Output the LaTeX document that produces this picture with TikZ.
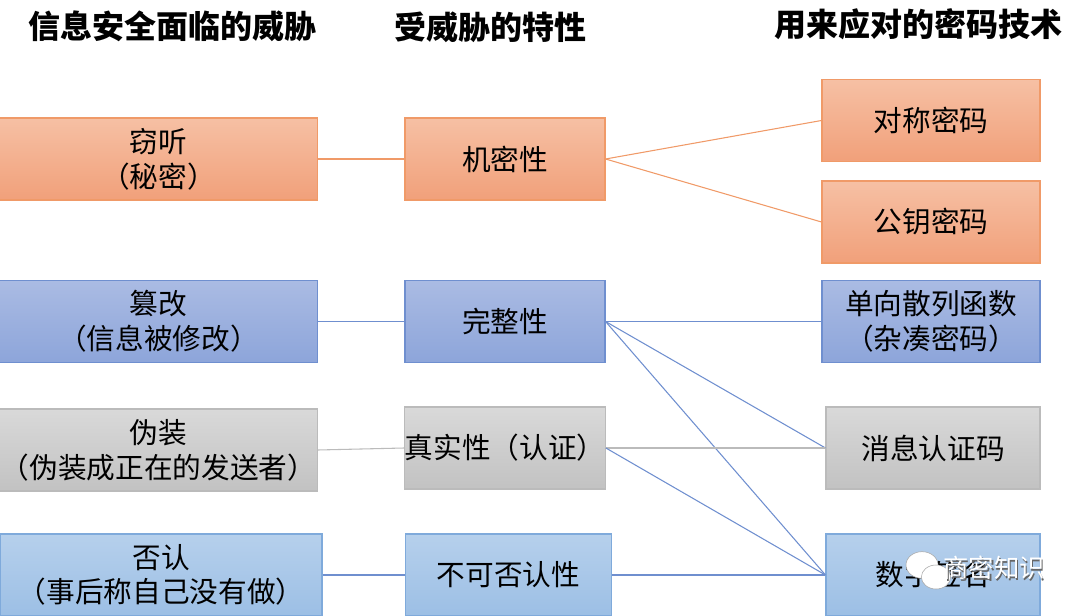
\documentclass[tikz,border=0pt]{standalone}
\usepackage{fontspec}
\setmainfont{Noto Sans CJK SC}
\usetikzlibrary{positioning}

\definecolor{orgtop}{HTML}{F6C0A4}
\definecolor{orgbot}{HTML}{F1A07A}
\definecolor{orgline}{HTML}{F09A68}
\definecolor{blutop}{HTML}{AABBE3}
\definecolor{blubot}{HTML}{8DA5DA}
\definecolor{bluline}{HTML}{6F8FCF}
\definecolor{grytop}{HTML}{D9D9D9}
\definecolor{grybot}{HTML}{C2C2C2}
\definecolor{gryline}{HTML}{BBBBBB}
\definecolor{lbltop}{HTML}{B6D0EC}
\definecolor{lblbot}{HTML}{9CBFE5}
\definecolor{lblline}{HTML}{7FAADB}

\begin{document}
\begin{tikzpicture}[x=0.75pt,y=-0.75pt,
    box/.style={draw,inner sep=0pt,align=center,minimum height=61.5pt,
      font=\fontsize{21.5}{26}\selectfont,line width=0.8pt},
    leftbox/.style={box,minimum width=238pt},
    midbox/.style={box,minimum width=150pt},
    rightbox/.style={box,minimum width=163.5pt},
    orange/.style={top color=orgtop,bottom color=orgbot,draw=orgline},
    blue/.style={top color=blutop,bottom color=blubot,draw=bluline},
    gray/.style={top color=grytop,bottom color=grybot,draw=gryline},
    lblue/.style={top color=lbltop,bottom color=lblbot,draw=lblline},
    head/.style={font=\fontsize{24}{28}\selectfont\bfseries}]
  \useasboundingbox (0,0) rectangle (1080,616);

  % column titles
  \node[head] (h1) at (172,26) {信息安全面临的威胁};
  \node[head] (h2) at (490,27) {受威胁的特性};
  \node[head] (h3) at (918,24) {用来应对的密码技术};

  % threats
  \node[leftbox,orange] (t1) at (158.5,159) {窃听\\（秘密）};
  \node[leftbox,blue] (t2) at (158.5,321.5) {篡改\\（信息被修改）};
  \node[leftbox,gray] (t3) at (158.5,450) {伪装\\（伪装成正在的发送者）};
  \node[leftbox,lblue,minimum width=241.5pt] (t4) at (161,575) {否认\\（事后称自己没有做）};

  % properties
  \node[midbox,orange] (p1) at (505,159) {机密性};
  \node[midbox,blue] (p2) at (505,321.5) {完整性};
  \node[midbox,gray] (p3) at (505,448) {真实性（认证）};
  \node[midbox,lblue,minimum width=155pt] (p4) at (508.5,575) {不可否认性};

  % techniques
  \node[rightbox,orange] (c1) at (931,120.5) {对称密码};
  \node[rightbox,orange] (c2) at (931,222) {公钥密码};
  \node[rightbox,blue] (c3) at (931,321.5) {单向散列函数\\（杂凑密码）};
  \node[rightbox,gray,minimum width=160.5pt] (c4) at (933,448) {消息认证码};
  \node[rightbox,lblue,minimum width=160.5pt] (c5) at (933,575) {数字签名};

  \draw[orgline,line width=0.8pt] (t1) -- (p1);
  \draw[orgline,line width=0.8pt] (p1.east) -- (c1.west);
  \draw[orgline,line width=0.8pt] (p1.east) -- (c2.west);

  \draw[bluline,line width=0.8pt] (t2) -- (p2);
  \draw[bluline,line width=0.8pt] (p2.east) -- (c3.west);
  \draw[bluline,line width=0.8pt] (p2.east) -- (c4.west);
  \draw[bluline,line width=0.8pt] (p2.east) -- (c5.west);

  \draw[gryline,line width=0.8pt] (t3.east) -- (p3.west);
  \draw[gryline,line width=0.8pt] (p3.east) -- (c4.west);
  \draw[bluline,line width=0.8pt] (p3.east) -- (c5.west);

  \draw[bluline,line width=0.8pt] (t4) -- (p4);
  \draw[bluline,line width=0.8pt] (p4.east) -- (c5.west);

  % watermark
  \fill[white,draw=gray!70] (922,565) ellipse (12pt and 10pt);
  \fill[white,draw=gray!70] (936,577) ellipse (11pt and 9pt);
  \node[text=black!60,font=\fontsize{19}{22}\selectfont] (wm0) at (995.5,569.5) {商密知识};
  \node[text=white,font=\fontsize{19}{22}\selectfont] (wm) at (994,568) {商密知识};
\end{tikzpicture}
\end{document}
